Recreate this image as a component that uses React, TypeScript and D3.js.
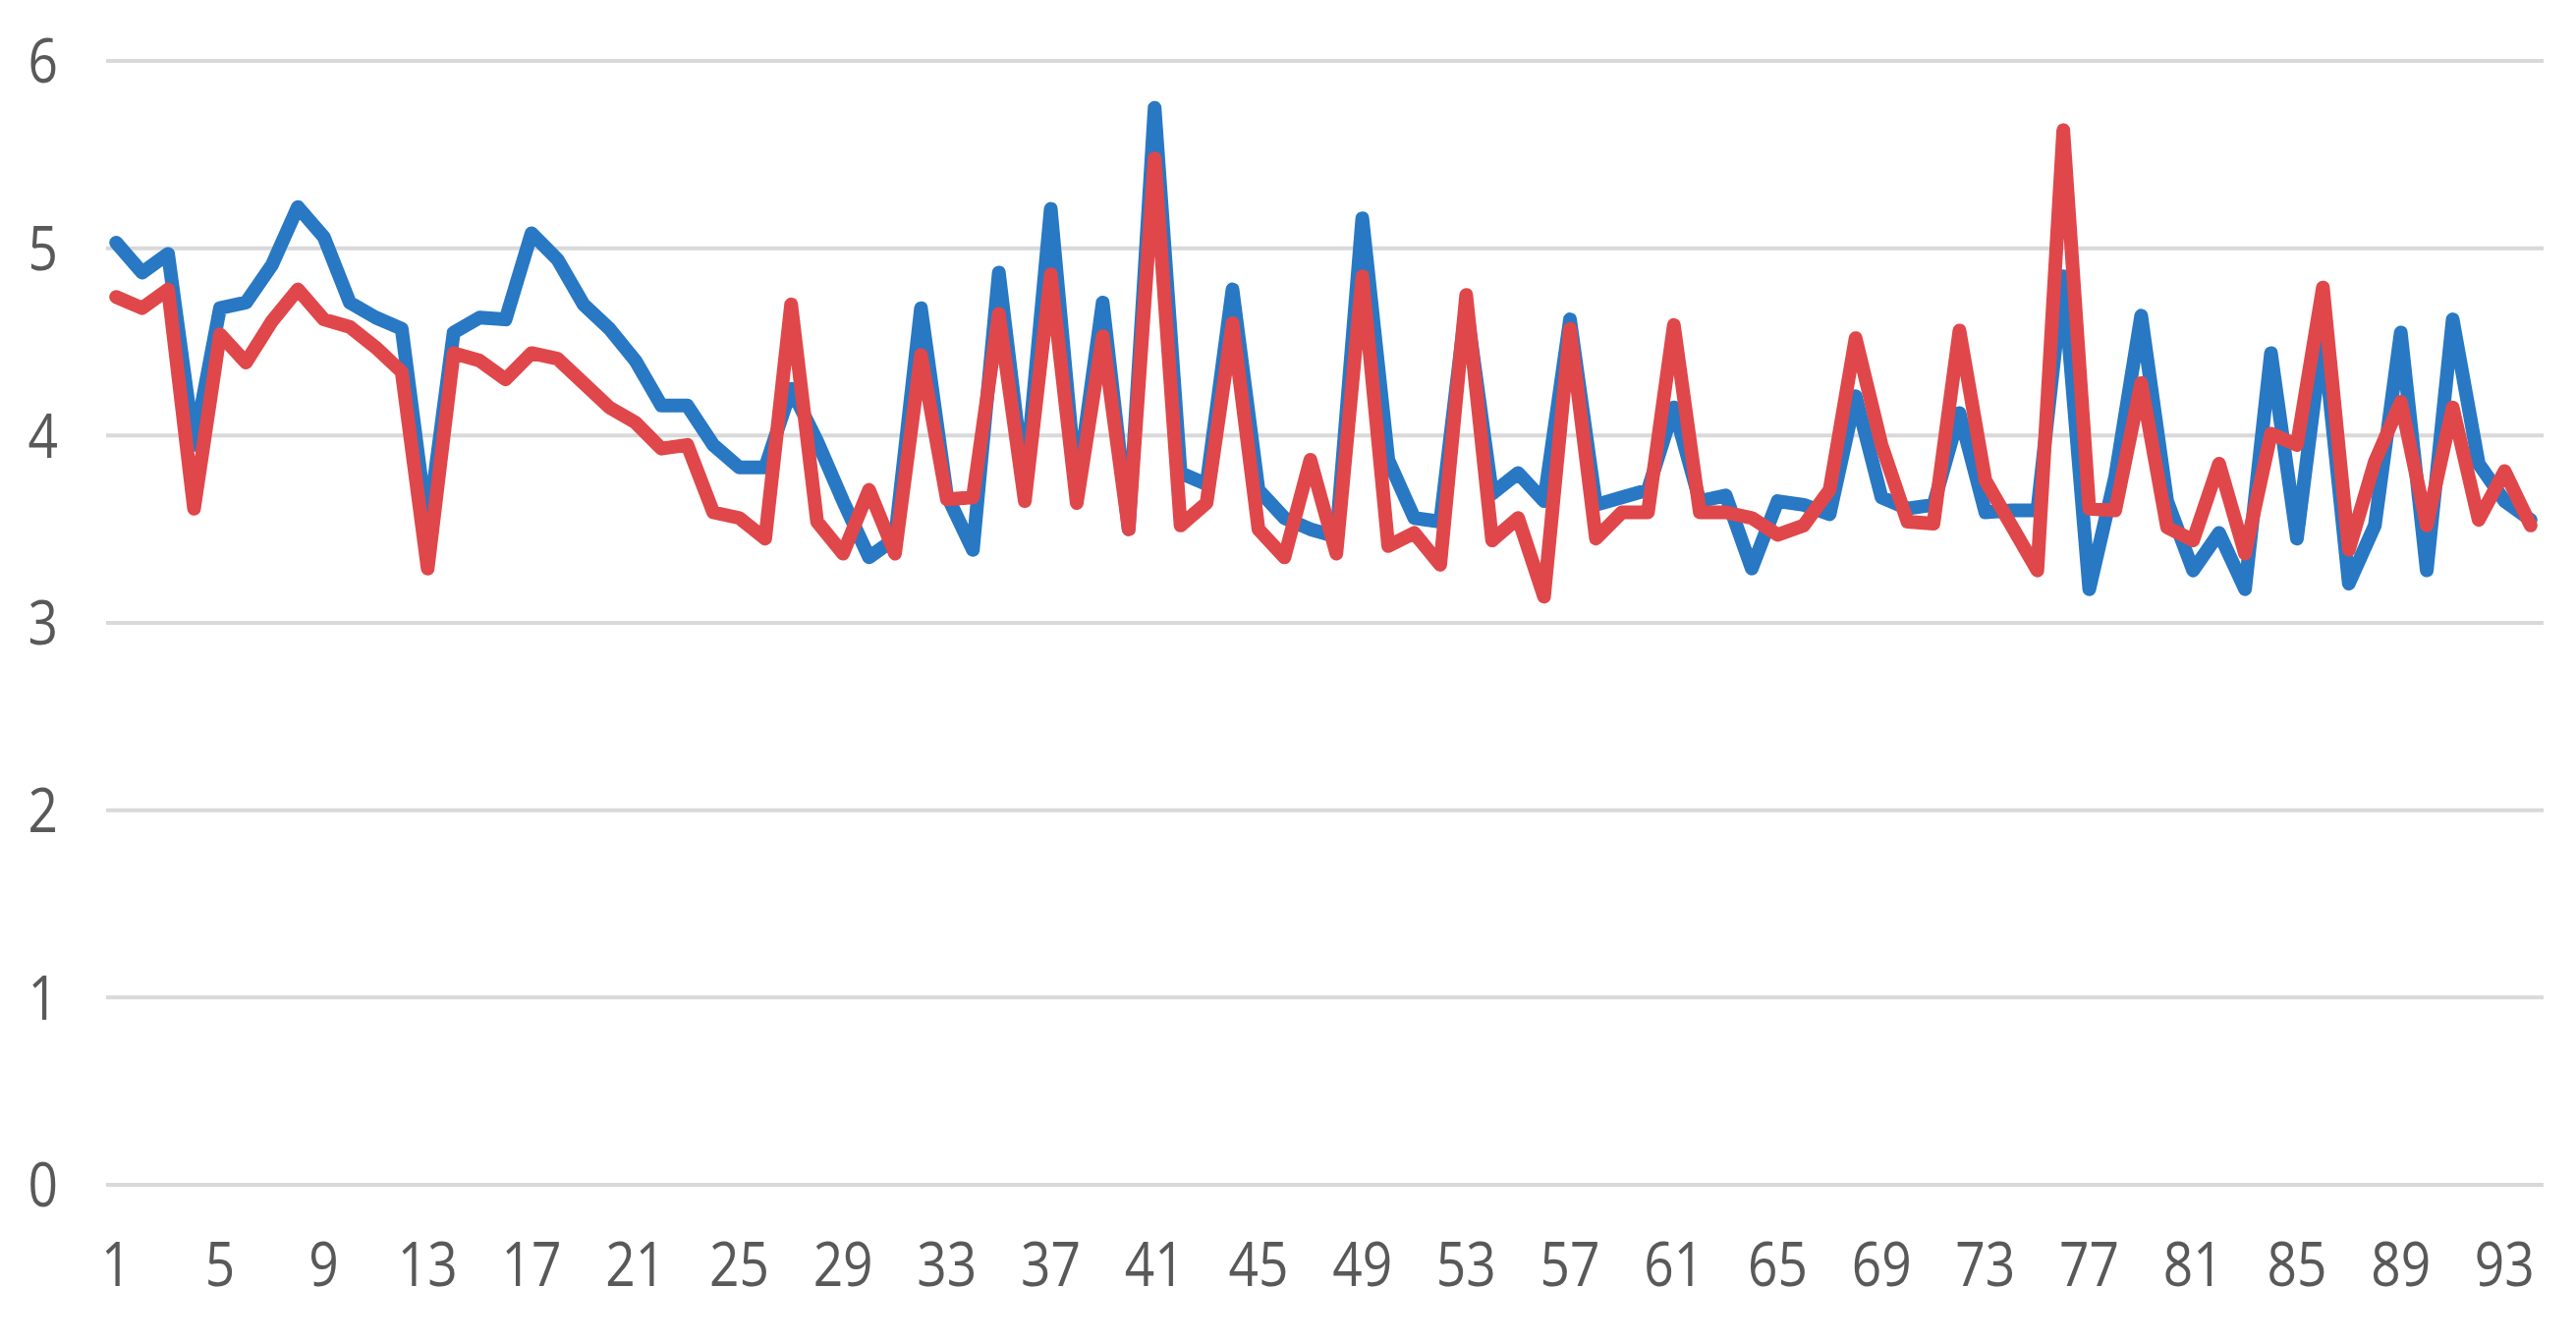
import React, { useEffect, useRef } from "react";
import * as d3 from "d3";

// series values, one per category (1..94)
const blueValues = [
  5.03, 4.87, 4.97, 3.95, 4.68, 4.71, 4.91, 5.22, 5.06, 4.71,
  4.63, 4.57, 3.5, 4.55, 4.63, 4.62, 5.08, 4.94, 4.7, 4.57,
  4.4, 4.16, 4.16, 3.95, 3.83, 3.83, 4.25, 3.97, 3.65, 3.35,
  3.45, 4.68, 3.68, 3.39, 4.87, 3.72, 5.21, 3.7, 4.71, 3.5,
  5.75, 3.8, 3.74, 4.78, 3.71, 3.56, 3.5, 3.46, 5.16, 3.87,
  3.56, 3.54, 4.7, 3.69, 3.8, 3.65, 4.62, 3.63, 3.67, 3.71,
  4.15, 3.65, 3.68, 3.29, 3.65, 3.63, 3.58, 4.21, 3.67, 3.61,
  3.63, 4.12, 3.59, 3.6, 3.6, 4.85, 3.18, 3.78, 4.64, 3.65,
  3.28, 3.48, 3.18, 4.44, 3.45, 4.55, 3.21, 3.52, 4.55, 3.28,
  4.62, 3.85, 3.65, 3.55,
];

const redValues = [
  4.74, 4.68, 4.78, 3.61, 4.54, 4.39, 4.61, 4.78, 4.62, 4.58,
  4.47, 4.34, 3.29, 4.44, 4.4, 4.3, 4.44, 4.41, 4.28, 4.15,
  4.07, 3.93, 3.95, 3.59, 3.56, 3.45, 4.7, 3.54, 3.37, 3.71,
  3.37, 4.43, 3.66, 3.67, 4.65, 3.65, 4.86, 3.64, 4.53, 3.5,
  5.48, 3.52, 3.64, 4.6, 3.5, 3.35, 3.87, 3.37, 4.85, 3.41,
  3.48, 3.31, 4.75, 3.44, 3.56, 3.14, 4.57, 3.45, 3.59, 3.59,
  4.59, 3.59, 3.59, 3.56, 3.47, 3.52, 3.71, 4.52, 3.95, 3.54,
  3.53, 4.56, 3.76, 3.52, 3.28, 5.63, 3.61, 3.6, 4.28, 3.51,
  3.44, 3.85, 3.37, 4.01, 3.95, 4.79, 3.39, 3.86, 4.18, 3.52,
  4.15, 3.55, 3.81, 3.52,
];

const xTickLabels = [
  "1", "5", "9", "13", "17", "21", "25", "29", "33", "37", "41", "45",
  "49", "53", "57", "61", "65", "69", "73", "77", "81", "85", "89", "93",
];

const yTicks = [0, 1, 2, 3, 4, 5, 6];

const ChartLines: React.FC = () => {
  const svgRef = useRef<SVGSVGElement>(null);

  useEffect(() => {
    const width = 2622;
    const height = 1367;

    const svg = d3.select(svgRef.current);
    svg.selectAll("*").remove();
    svg.attr("width", width).attr("height", height);

    const categories = blueValues.map((_, i) => String(i + 1));

    const x = d3.scaleBand<string>().domain(categories).range([105, 2589]);
    const cx = (c: string) => (x(c) as number) + x.bandwidth() / 2;

    const y = d3.scaleLinear().domain([0, 6]).range([1206, 62]);

    const textColor = "#595959";
    const font = "'Open Sans', 'Liberation Sans', sans-serif";
    const squeeze = 0.86; // the original labels are narrow (Calibri-like)

    // horizontal gridlines
    svg
      .append("g")
      .selectAll("line")
      .data(yTicks)
      .join("line")
      .attr("x1", 108)
      .attr("x2", 2589)
      .attr("y1", (d) => y(d))
      .attr("y2", (d) => y(d))
      .attr("stroke", "#d9d9d9")
      .attr("stroke-width", 4);

    // y labels
    svg
      .append("g")
      .selectAll("text")
      .data(yTicks)
      .join("text")
      .attr("transform", (d) => `translate(59,${y(d)}) scale(${squeeze},1)`)
      .attr("dy", "0.36em")
      .attr("text-anchor", "end")
      .attr("fill", textColor)
      .style("font-family", font)
      .style("font-size", "62px")
      .text((d) => String(d));

    // x labels
    svg
      .append("g")
      .selectAll("text")
      .data(xTickLabels)
      .join("text")
      .attr("transform", (d) => `translate(${cx(d)},1309) scale(${squeeze},1)`)
      .attr("text-anchor", "middle")
      .attr("fill", textColor)
      .style("font-family", font)
      .style("font-size", "62px")
      .text((d) => d);

    const line = d3
      .line<number>()
      .x((_, i) => cx(categories[i]))
      .y((d) => y(d));

    const series = [
      { values: blueValues, color: "#2878c4" },
      { values: redValues, color: "#e0474a" },
    ];

    svg
      .append("g")
      .selectAll("path")
      .data(series)
      .join("path")
      .attr("d", (d) => line(d.values))
      .attr("fill", "none")
      .attr("stroke", (d) => d.color)
      .attr("stroke-width", 14)
      .attr("stroke-linejoin", "round")
      .attr("stroke-linecap", "round");
  }, []);

  return (
    <svg
      ref={svgRef}
      style={{ position: "absolute", left: 0, top: 0, background: "#fff" }}
    ></svg>
  );
};

export default function App() {
  return <ChartLines />;
}
